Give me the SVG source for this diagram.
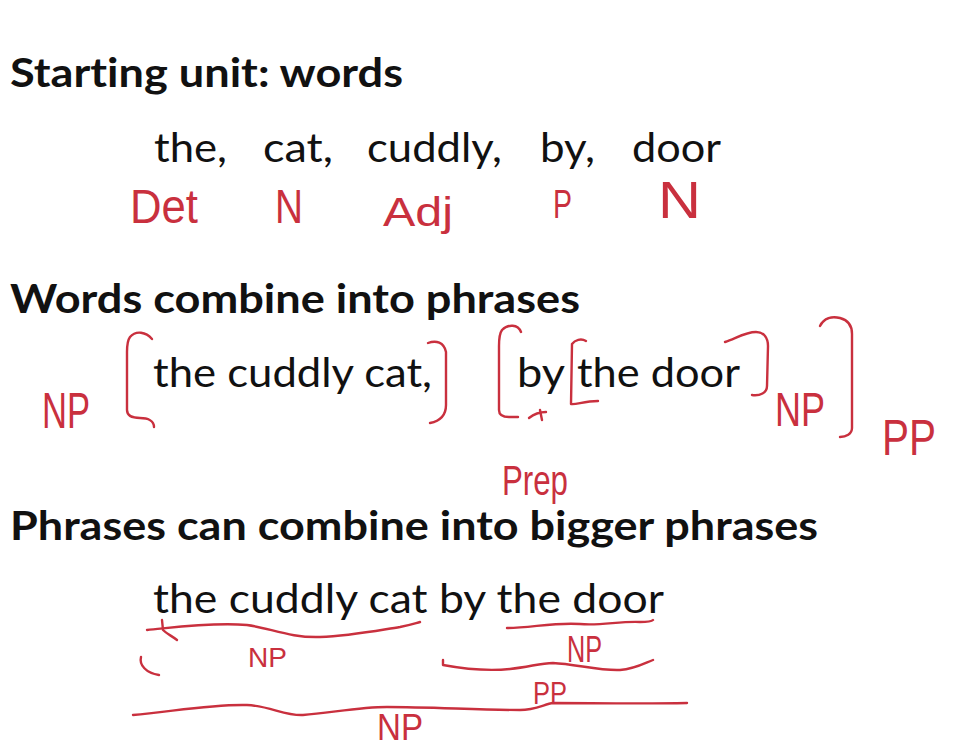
<svg xmlns="http://www.w3.org/2000/svg" width="955" height="749" viewBox="0 0 955 749">
<style>
text{font-variant-ligatures:none}
.h{font-family:Lato,"Open Sans","Liberation Sans",sans-serif;font-weight:bold;font-size:40px;fill:#111}
.b{font-family:Lato,"Open Sans","Liberation Sans",sans-serif;font-size:41px;fill:#111}
.r{font-family:"Liberation Sans","DejaVu Sans",sans-serif;fill:#c9303e}
.s{fill:none;stroke:#c9303e;stroke-width:2.4;stroke-linecap:round;stroke-linejoin:round}
</style>
<rect width="955" height="749" fill="#fff"/>
<g id="heading1"><text class="h" x="10" y="87" textLength="393" lengthAdjust="spacingAndGlyphs">Starting unit: words</text></g>
<g id="words">
<text class="b" x="154" y="162" textLength="73" lengthAdjust="spacingAndGlyphs">the,</text>
<text class="b" x="263" y="162" textLength="70" lengthAdjust="spacingAndGlyphs">cat,</text>
<text class="b" x="367" y="162" textLength="135" lengthAdjust="spacingAndGlyphs">cuddly,</text>
<text class="b" x="540" y="162" textLength="55" lengthAdjust="spacingAndGlyphs">by,</text>
<text class="b" x="632" y="162" textLength="89" lengthAdjust="spacingAndGlyphs">door</text>
</g>
<g id="word-tags">
<text class="r" x="130" y="223" font-size="48" textLength="68" lengthAdjust="spacingAndGlyphs">Det</text>
<text class="r" x="275" y="223" font-size="48" textLength="28" lengthAdjust="spacingAndGlyphs">N</text>
<text class="r" x="383" y="226" font-size="40" textLength="70" lengthAdjust="spacingAndGlyphs">Adj</text>
<text class="r" x="553" y="218" font-size="40" textLength="19" lengthAdjust="spacingAndGlyphs">P</text>
<text class="r" x="658" y="218" font-size="52" textLength="43" lengthAdjust="spacingAndGlyphs">N</text>
</g>
<g id="heading2"><text class="h" x="10" y="313" textLength="570" lengthAdjust="spacingAndGlyphs">Words combine into phrases</text></g>
<g id="phrases">
<text class="b" x="153" y="387" textLength="279" lengthAdjust="spacingAndGlyphs">the cuddly cat,</text>
<text class="b" x="517" y="387" textLength="48" lengthAdjust="spacingAndGlyphs">by</text>
<text class="b" x="577" y="387" textLength="163" lengthAdjust="spacingAndGlyphs">the door</text>
</g>
<g id="phrase-tags">
<text class="r" x="42" y="428" font-size="50" textLength="48" lengthAdjust="spacingAndGlyphs">NP</text>
<text class="r" x="775" y="426" font-size="48" textLength="50" lengthAdjust="spacingAndGlyphs">NP</text>
<text class="r" x="882" y="455" font-size="50" textLength="54" lengthAdjust="spacingAndGlyphs">PP</text>
<text class="r" x="502" y="495" font-size="42" textLength="66" lengthAdjust="spacingAndGlyphs">Prep</text>
</g>
<g id="heading3"><text class="h" x="10" y="540" textLength="808" lengthAdjust="spacingAndGlyphs">Phrases can combine into bigger phrases</text></g>
<g id="bigger-phrase"><text class="b" x="153" y="613" textLength="511" lengthAdjust="spacingAndGlyphs">the cuddly cat by the door</text></g>
<g id="tree-tags">
<text class="r" x="248" y="667" font-size="28" textLength="39" lengthAdjust="spacingAndGlyphs">NP</text>
<text class="r" x="567" y="662" font-size="36" textLength="35" lengthAdjust="spacingAndGlyphs">NP</text>
<text class="r" x="533" y="704" font-size="32" textLength="34" lengthAdjust="spacingAndGlyphs">PP</text>
<text class="r" x="377" y="740" font-size="36" textLength="46" lengthAdjust="spacingAndGlyphs">NP</text>
</g>
<g id="connectors">
<path class="s" d="M152,339 C146,332 136,330 130,337 C127,341 127,346 127,352 L127,410 C127,416 132,418 140,418 C148,418 154,421 154,427"/>
<path class="s" d="M428,343 C436,340 444,342 446,352 L446,405 C446,416 440,421 430,423"/>
<path class="s" d="M521,332 C518,324 508,324 502,330 C499,334 499,340 499,346 L499,410 C499,415 503,417 509,417 L518,417"/>
<path class="s" d="M529,418 C534,414 540,412 546,412 M540,410 L542,420"/>
<path class="s" d="M586,341 C581,338 575,340 572,344 L571,404 C576,405 584,401 598,401"/>
<path class="s" d="M725,342 C735,339 745,332 756,332 C764,332 768,338 768,346 L767,386 C767,393 760,396 752,395"/>
<path class="s" d="M820,326 C824,318 832,316 840,318 C848,320 852,326 852,334 L852,428 C852,434 846,437 840,437"/>
<path class="s" d="M147,630 C170,628 210,622 247,625 C270,628 290,638 320,637 C350,636 380,630 400,627 C410,625 416,623 420,622"/>
<path class="s" d="M162,620 L163,630 C167,634 172,636 177,640"/>
<path class="s" d="M141,657 C139,665 146,673 159,675"/>
<path class="s" d="M507,628 C530,628 555,622 580,624 C600,626 620,621 640,622 C648,622 652,621 653,620"/>
<path class="s" d="M443,660 L443,665 C470,670 490,671 510,669 C530,667 540,663 553,663 C575,664 600,671 620,670 C635,669 645,663 653,660"/>
<path class="s" d="M133,715 C170,712 210,704 247,705 C270,706 285,716 303,715 C330,713 360,707 387,707 C430,707 480,710 520,710 C535,710 545,704 553,703 C590,703 640,704 687,703"/>
</g>
</svg>
